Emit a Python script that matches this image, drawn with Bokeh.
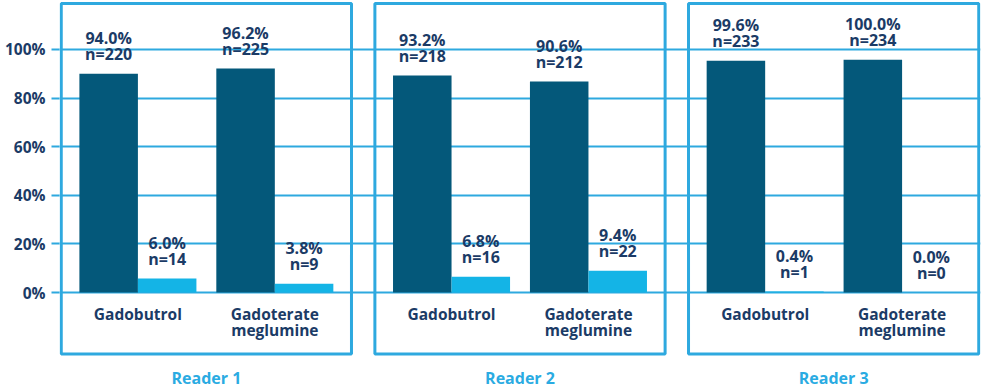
from bokeh.plotting import figure
from bokeh.models import (FactorRange, Range1d, LinearAxis, FixedTicker,
                          PrintfTickFormatter, Grid, ColumnDataSource)
from bokeh.core.properties import value
from bokeh.embed import file_html
from bokeh.resources import INLINE

# ---------------- data ----------------
readers = ["Reader 1", "Reader 2", "Reader 3"]
drugs = ["Gadobutrol", "Gadoterate meglumine"]
drug_labels = ["Gadobutrol", "Gadoterate\nmeglumine"]
series = ["dark", "light"]

pct_dark = [94.0, 96.2, 93.2, 90.6, 99.6, 100.0]
n_dark = [220, 225, 218, 212, 233, 234]
pct_light = [6.0, 3.8, 6.8, 9.4, 0.4, 0.0]
n_light = [14, 9, 16, 22, 1, 0]

y_ticks = [0, 20, 40, 60, 80, 100]

# ---------------- style ----------------
DARK = "#04587a"
LIGHT = "#14b4e6"
TEXT = "#1b3b66"
LINE = "#2ea9df"
READER = "#2aabe2"
FONT = value("Open Sans")

AX_LO, AX_HI = -39.9, 119.75      # axis (percent) range shown in frame
BAR_SCALE = 0.958                 # bars are drawn slightly shorter than the axis scale

factors = [(r, d, s) for r in readers for d in drugs for s in series]
x_range = FactorRange(factors=factors, factor_padding=0, subgroup_padding=0.34,
                      group_padding=1.02, range_padding=0.34,
                      range_padding_units="absolute")

p = figure(width=990, height=388, x_range=x_range,
           y_range=Range1d(AX_LO / BAR_SCALE, AX_HI / BAR_SCALE),
           x_axis_location=None, y_axis_location=None,
           output_backend="svg", toolbar_location=None,
           min_border=0, min_border_left=59, min_border_right=10,
           margin=(1, 0, 0, 0))
p.outline_line_color = None
p.background_fill_color = "white"
p.border_fill_color = "white"
p.extra_y_ranges = {"axis": Range1d(AX_LO, AX_HI)}
p.center = [r for r in p.center if not isinstance(r, Grid)]

# axis + grid
yaxis = LinearAxis(y_range_name="axis", ticker=FixedTicker(ticks=y_ticks),
                   formatter=PrintfTickFormatter(format="%d%%"))
yaxis.axis_line_color = None
yaxis.major_tick_out = 8
yaxis.major_tick_in = 0
yaxis.major_tick_line_color = LINE
yaxis.major_tick_line_width = 2
yaxis.minor_tick_line_color = None
yaxis.major_label_standoff = 6
yaxis.major_label_text_font = "Open Sans"
yaxis.major_label_text_font_style = "bold"
yaxis.major_label_text_font_size = "15.5px"
yaxis.major_label_text_color = TEXT
p.add_layout(yaxis, "left")

grid = Grid(dimension=1, ticker=yaxis.ticker, y_range_name="axis",
            grid_line_color=LINE, grid_line_width=2)
p.add_layout(grid)

# panel borders
p.quad(left=[(r, drugs[0], series[0], -0.81) for r in readers],
       right=[(r, drugs[-1], series[-1], 0.81) for r in readers],
       bottom=-25.3, top=118.9, y_range_name="axis",
       fill_color=None, line_color=LINE, line_width=3)

# bars
xd = [(r, d, series[0]) for r in readers for d in drugs]
xl = [(r, d, series[1]) for r in readers for d in drugs]
src_d = ColumnDataSource(dict(x=xd, top=pct_dark,
                              pct=[f"{v:.1f}%" for v in pct_dark],
                              n=[f"n={v}" for v in n_dark]))
src_l = ColumnDataSource(dict(x=xl, top=pct_light,
                              pct=[f"{v:.1f}%" for v in pct_light],
                              n=[f"n={v}" for v in n_light]))
p.vbar(x="x", top="top", bottom=0, width=1.0, source=src_d,
       fill_color=DARK, line_color=None)
p.vbar(x="x", top="top", bottom=0, width=1.0, source=src_l,
       fill_color=LIGHT, line_color=None)

# value labels
for src in (src_d, src_l):
    p.text(x="x", y="top", text="pct", source=src, y_offset=-36,
           text_align="center", text_baseline="middle",
           text_font=FONT, text_font_style="bold", text_font_size="16px",
           text_color=TEXT)
    p.text(x="x", y="top", text="n", source=src, y_offset=-19.5,
           text_align="center", text_baseline="middle",
           text_font=FONT, text_font_style="bold", text_font_size="16px",
           text_color=TEXT)

# category labels (drug names, possibly two lines)
cx, l1, l2 = [], [], []
for r in readers:
    for d, lab in zip(drugs, drug_labels):
        parts = lab.split("\n")
        cx.append((r, d))
        l1.append(parts[0])
        l2.append(parts[1] if len(parts) > 1 else "")
cat_src = ColumnDataSource(dict(x=cx, y=[0] * len(cx), l1=l1, l2=l2))
for col, off in (("l1", 21.5), ("l2", 37)):
    p.text(x="x", y="y", text=col, source=cat_src, y_range_name="axis",
           y_offset=off, text_align="center", text_baseline="middle",
           text_font=FONT, text_font_style="bold", text_font_size="15.5px",
           text_color=TEXT)

# reader labels
rd_src = ColumnDataSource(dict(x=readers, y=[0] * len(readers), t=readers))
p.text(x="x", y="y", text="t", source=rd_src, y_range_name="axis",
       y_offset=85, text_align="center", text_baseline="middle",
       text_font=FONT, text_font_style="bold", text_font_size="16px",
       text_color=READER)

open("out.html", "w").write(file_html(p, INLINE))
